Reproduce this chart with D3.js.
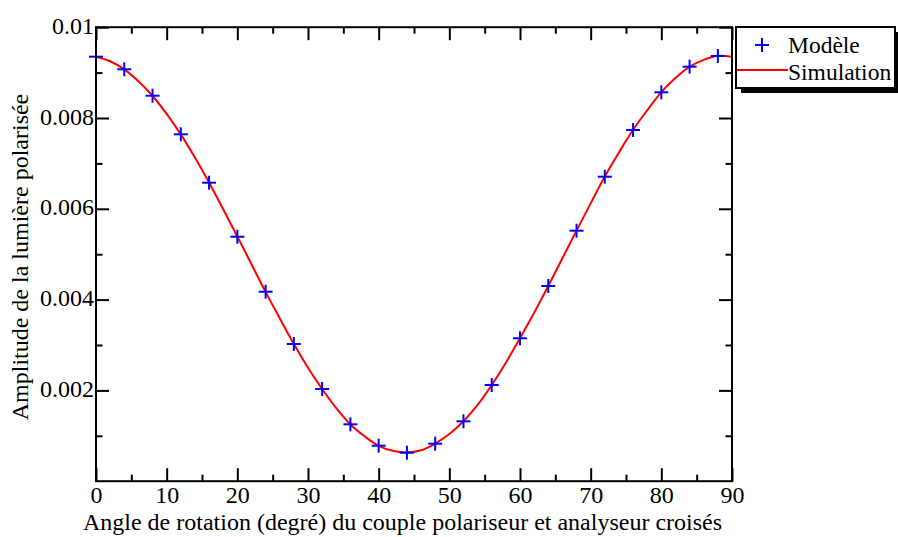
<!DOCTYPE html>
<html><head><meta charset="utf-8">
<script src="https://cdn.jsdelivr.net/npm/d3@7"></script>
</head>
<body style="margin:0"><svg id="c" width="898" height="537" font-family="Liberation Serif" style="font-family:'Liberation Serif';background:#fff"></svg>
<script>
// Data
const modelAngles = [0,4,8,12,16,20,24,28,32,36,40,44,48,52,56,60,64,68,72,76,80,84,88];
const modelValues = [0.00935,0.009073,0.008491,0.007641,0.006575,0.005385,0.004174,0.003022,0.002031,0.001253,0.000782,0.000628,0.000826,0.001319,0.002119,0.003148,0.0043,0.005518,0.006707,0.007736,0.008566,0.00913,0.009366];
const simAngles = [0,2,4,6,8,10,12,14,16,18,20,22,24,26,28,30,32,34,36,38,40,42,44,46,48,50,52,54,56,58,60,62,64,66,68,70,72,74,76,78,80,82,84,86,88,90];
const simValues = [0.00935,0.00925,0.00907,0.00881,0.00849,0.00809,0.00764,0.00713,0.00658,0.00599,0.00539,0.00478,0.00417,0.00359,0.00302,0.00250,0.00203,0.00161,0.00125,0.00099,0.00078,0.00067,0.00063,0.00068,0.00083,0.00104,0.00132,0.00168,0.00212,0.00261,0.00315,0.00371,0.0043,0.00491,0.00552,0.00612,0.00671,0.00724,0.00774,0.00817,0.00857,0.00888,0.00913,0.00928,0.00937,0.00935];
const xMajorTicks = [0,10,20,30,40,50,60,70,80,90];
const xMinorTicks = [5,15,25,35,45,55,65,75,85];
const yMajorTicks = [0.002,0.004,0.006,0.008,0.01];
const yTickLabels = ["0.002","0.004","0.006","0.008","0.01"];
const yMinorTicks = [0.001,0.003,0.005,0.007,0.009];
const seriesNames = ["Modèle","Simulation"];
const xTitle = "Angle de rotation (degré) du couple polariseur et analyseur croisés";
const yTitle = "Amplitude de la lumière polarisée";

const svg = d3.select("#c");
const L=96, R=732, T=27.2, B=481.2;
const x = d3.scaleLinear().domain([0,90]).range([L,R]);
const y = d3.scaleLinear().domain([0,0.01]).range([B,T]);

function txt(sel, size){
  return sel.attr("font-family","Liberation Serif").attr("font-size",size)
    .style("font-family",'"Liberation Serif"').style("font-size",size+"px").style("fill","#000");
}

// curve
svg.append("path").datum(simAngles.map((a,i)=>[a,simValues[i]]))
  .attr("fill","none").attr("stroke","#ff0000").attr("stroke-width",2)
  .attr("d", d3.line().x(d=>x(d[0])).y(d=>y(d[1])).curve(d3.curveCatmullRom));

// markers
const ms=7;
const mk = svg.append("g").attr("stroke","#0000ff").attr("stroke-width",2);
modelAngles.forEach((a,i)=>{
  const cx=x(a), cy=y(modelValues[i]);
  mk.append("line").attr("x1",cx-ms).attr("x2",cx+ms).attr("y1",cy).attr("y2",cy);
  mk.append("line").attr("x1",cx).attr("x2",cx).attr("y1",cy-ms).attr("y2",cy+ms);
});

// axes (ticks inward, mirrored)
const bigT=13, smallT=6.5;
function axisG(axis, tr){
  const g=svg.append("g").attr("transform",tr).call(axis);
  g.attr("font-family","Liberation Serif").attr("font-size",24);
  g.select(".domain").remove();
  g.selectAll("line").attr("stroke","#000").attr("stroke-width",2);
  return g;
}
const xb = axisG(d3.axisBottom(x).tickValues(xMajorTicks).tickSize(-bigT).tickPadding(5).tickFormat(d3.format("d")), `translate(0,${B})`);
txt(xb.selectAll("text"),24);
axisG(d3.axisBottom(x).tickValues(xMinorTicks).tickSize(-smallT).tickFormat(""), `translate(0,${B})`);
axisG(d3.axisTop(x).tickValues(xMajorTicks).tickSize(-bigT).tickFormat(""), `translate(0,${T})`);
axisG(d3.axisTop(x).tickValues(xMinorTicks).tickSize(-smallT).tickFormat(""), `translate(0,${T})`);
const yl = axisG(d3.axisLeft(y).tickValues(yMajorTicks).tickSize(-bigT).tickPadding(3).tickFormat((d,i)=>yTickLabels[i]), `translate(${L},0)`);
txt(yl.selectAll("text"),24).attr("dy","0.25em").attr("x",-2);
axisG(d3.axisLeft(y).tickValues(yMinorTicks).tickSize(-smallT).tickFormat(""), `translate(${L},0)`);
axisG(d3.axisRight(y).tickValues(yMajorTicks).tickSize(-bigT).tickFormat(""), `translate(${R},0)`);
axisG(d3.axisRight(y).tickValues(yMinorTicks).tickSize(-smallT).tickFormat(""), `translate(${R},0)`);

// frame
svg.append("rect").attr("x",L).attr("y",T).attr("width",R-L).attr("height",B-T)
  .attr("fill","none").attr("stroke","#000").attr("stroke-width",2);

// titles
txt(svg.append("text").attr("x",402.5).attr("y",530).attr("text-anchor","middle"),24).text(xTitle);
txt(svg.append("text").attr("transform",`translate(28,257) rotate(-90)`)
  .attr("text-anchor","middle"),24).text(yTitle);

// legend
const lg = svg.append("g");
lg.append("rect").attr("x",741).attr("y",32).attr("width",160).attr("height",61).attr("fill","#000");
lg.append("rect").attr("x",736).attr("y",27).attr("width",159).attr("height",61).attr("fill","#fff").attr("stroke","#000").attr("stroke-width",2);
lg.append("line").attr("x1",762-ms).attr("x2",762+ms).attr("y1",45).attr("y2",45).attr("stroke","#0000ff").attr("stroke-width",2);
lg.append("line").attr("x1",762).attr("x2",762).attr("y1",45-ms).attr("y2",45+ms).attr("stroke","#0000ff").attr("stroke-width",2);
lg.append("line").attr("x1",737).attr("x2",788).attr("y1",70).attr("y2",70).attr("stroke","#ff0000").attr("stroke-width",2);
txt(lg.append("text").attr("x",788).attr("y",53),23.5).text(seriesNames[0]);
txt(lg.append("text").attr("x",788).attr("y",80),23.5).text(seriesNames[1]);
</script></body></html>
